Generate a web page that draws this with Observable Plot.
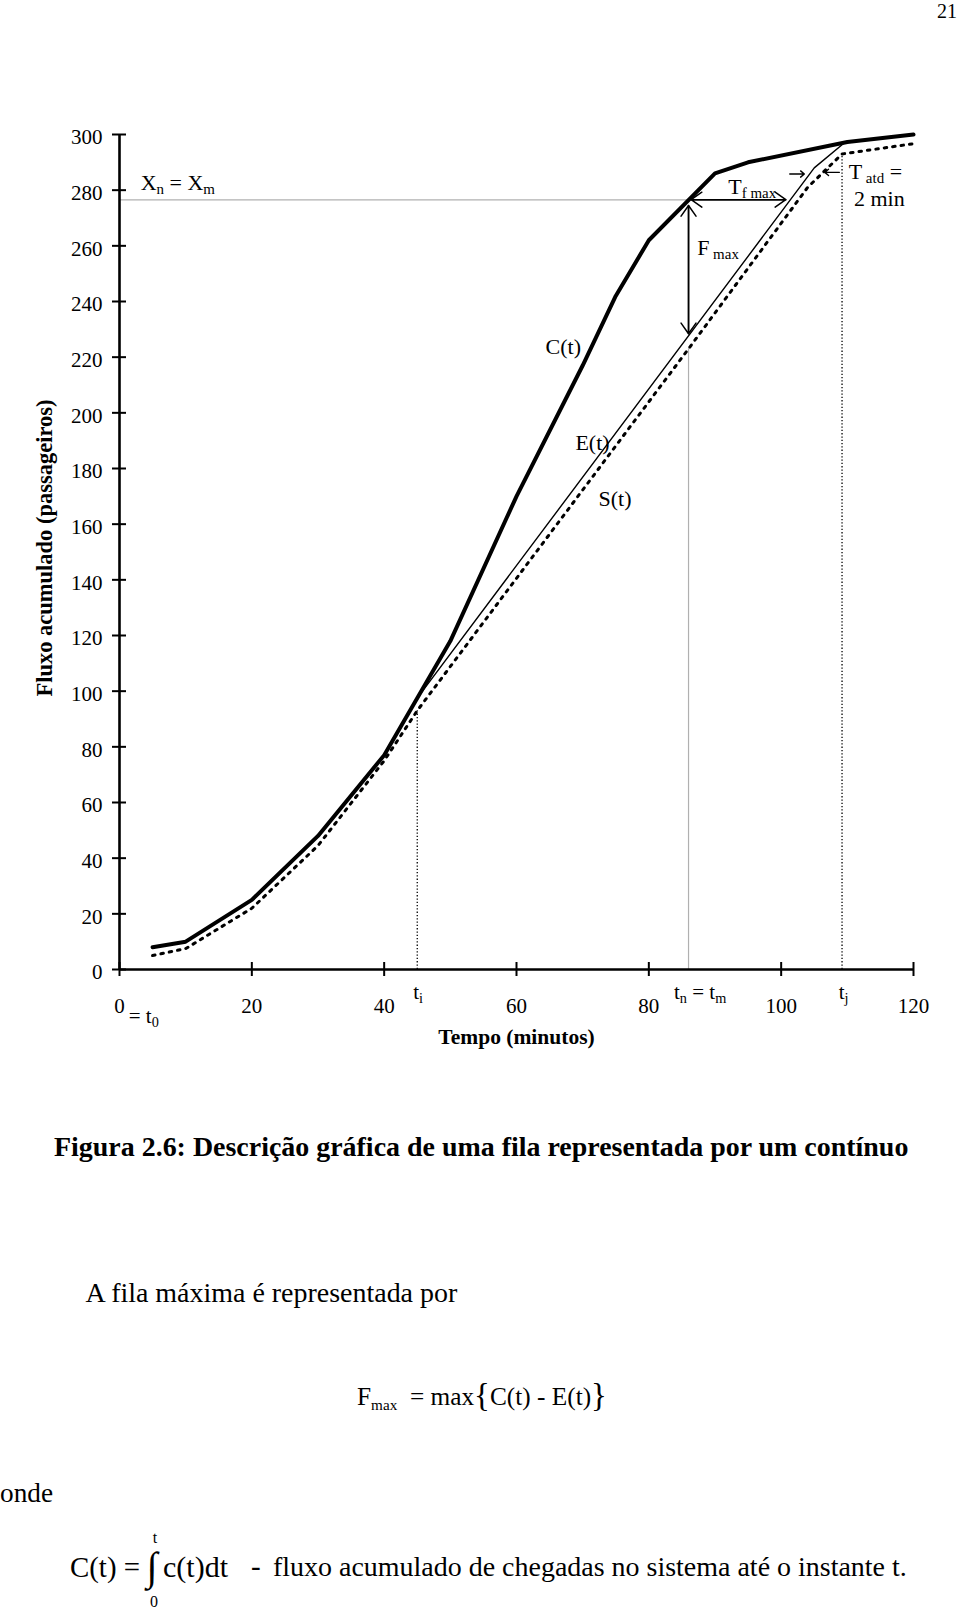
<!DOCTYPE html>
<html>
<head>
<meta charset="utf-8">
<script src="https://cdn.jsdelivr.net/npm/d3@7"></script>
<script src="https://cdn.jsdelivr.net/npm/@observablehq/plot@0.6"></script>
<style>
  html, body { margin: 0; padding: 0; background: #fff; }
  body { width: 960px; height: 1610px; position: relative; overflow: hidden;
         font-family: "Liberation Serif", "Times New Roman", serif; color: #000; }
  .abs { position: absolute; white-space: nowrap; line-height: 1; }
  #chart { position: absolute; left: 0; top: 0; }
  .sub { font-size: 0.6em; position: relative; top: 0.35em; line-height: 0; }
  .brace { font-size: 1.3em; line-height: 0; position: relative; top: 0.04em; }
</style>
</head>
<body>
<div id="chart"></div>
<div id="pagenum" class="abs">21</div>
<div id="caption" class="abs" style="font-weight:bold">Figura 2.6: Descrição gráfica de uma fila representada por um contínuo</div>
<div id="para" class="abs">A fila máxima é representada por</div>
<div id="formula" class="abs">F<span class="sub">max</span>&nbsp; = max<span class="brace">{</span>C(t) - E(t)<span class="brace">}</span></div>
<div id="onde" class="abs">onde</div>
<div id="cdef" class="abs">C(t) =</div>
<div id="integral" class="abs">∫</div>
<div id="limT" class="abs">t</div>
<div id="lim0" class="abs">0</div>
<div id="cint" class="abs">c(t)dt</div>
<div id="dash" class="abs">-</div>
<div id="desc" class="abs">fluxo acumulado de chegadas no sistema até o instante t.</div>
<script>
// ---------- data ----------
const xTicks = [0, 20, 40, 60, 80, 100, 120];
const yTicks = [0, 20, 40, 60, 80, 100, 120, 140, 160, 180, 200, 220, 240, 260, 280, 300];

// C(t): cumulative arrivals (thick line)
const cTime = [5, 10, 20, 30, 40, 50, 60, 70, 75, 80, 90, 95, 110, 120];
const cFlow = [8, 10, 25, 48, 77, 118, 170, 217, 242, 262, 286, 290, 297.3, 300];
// E(t): cumulative entries (thin line)
const eTime = [5, 10, 20, 30, 40, 45, 105, 109.7, 120];
const eFlow = [8, 10, 25, 48, 77, 97.5, 288, 297.3, 300];
// S(t): cumulative departures (dotted line)
const sTime = [5, 10, 20, 30, 40, 45, 86, 104, 109.2, 120];
const sFlow = [5, 7.5, 22, 44.5, 75, 93, 223, 281, 293, 296.7];

// reference instants / levels
const tN = 86, xN = 276.5, tNTop = 223;
const guideTime = [45, 109.2];      // t_i, t_j
const guideTop  = [93, 293];

// arrows: [x1, y1, x2, y2]
const arrowSegs = [
  [86, 274.5, 86, 228.4], [86, 228.4, 86, 274.5],     // F max
  [86.4, 276.6, 100.7, 276.6], [100.7, 276.6, 86.4, 276.6], // T f max
];
const smallArrowSegs = [
  [101.3, 285.8, 103.5, 285.8],
  [108.8, 286.4, 106.6, 286.4]
];

// annotations inside the plot: text, time, flow (baseline)
const noteText = ["X_{n} = X_{m}", "T_{f max}", "F_{ max}", "C(t)", "E(t)", "S(t)", "T_{ atd} =", "2 min"];
const noteTime = [3.2, 92.0, 87.3, 64.4, 68.9, 72.4, 110.2, 111.0];
const noteFlow = [279.9, 278.7, 256.6, 221.2, 186.7, 166.7, 284.1, 274.2];

// labels under the time axis
const tickNoteText = ["t_{i}", "t_{n} = t_{m}", "t_{j}"];
const tickNoteTime = [44.4, 83.8, 108.7];
const t0Text = "= t_{0}", t0Time = 1.4;

const yTitle = "Fluxo acumulado (passageiros)";
const xTitle = "Tempo (minutos)";

// ---------- build ----------
const C = cTime.map((t, i) => ({t, v: cFlow[i]}));
const E = eTime.map((t, i) => ({t, v: eFlow[i]}));
const S = sTime.map((t, i) => ({t, v: sFlow[i]}));
const guides = guideTime.map((t, i) => ({t, top: guideTop[i]}));
const arrows = arrowSegs.map(([x1, y1, x2, y2]) => ({x1, y1, x2, y2}));
const smallArrows = smallArrowSegs.map(([x1, y1, x2, y2]) => ({x1, y1, x2, y2}));
const notes = noteText.map((text, i) => ({text, t: noteTime[i], v: noteFlow[i]}));
const tickNotes = tickNoteText.map((text, i) => ({text, t: tickNoteTime[i]}));

const svg = Plot.plot({
  width: 960,
  height: 1060,
  marginLeft: 119,
  marginRight: 47,
  marginTop: 134,
  marginBottom: 91,
  x: {domain: [0, 120], label: null},
  y: {domain: [0, 300], label: null},
  style: {fontFamily: '"Liberation Serif", "Times New Roman", serif', fontSize: "21px", color: "#000", background: "transparent", overflow: "visible"},
  marks: [
    // gray reference lines
    Plot.ruleY([xN], {x1: 0, x2: tN, stroke: "#b0b0b0", strokeWidth: 1.2}),
    Plot.ruleX([tN], {y1: 0, y2: tNTop, stroke: "#b0b0b0", strokeWidth: 1.2}),
    // dotted guides t_i, t_j
    Plot.ruleX(guides, {x: "t", y1: 0, y2: "top", stroke: "#000", strokeWidth: 1.3, strokeDasharray: "1.3,2"}),
    // curves
    Plot.line(S, {x: "t", y: "v", stroke: "#000", strokeWidth: 3, strokeDasharray: "2.5,6"}),
    Plot.line(E, {x: "t", y: "v", stroke: "#000", strokeWidth: 1.4}),
    Plot.line(C, {x: "t", y: "v", stroke: "#000", strokeWidth: 4, strokeLinejoin: "round"}),
    // arrows
    Plot.arrow(arrows, {x1: "x1", y1: "y1", x2: "x2", y2: "y2", stroke: "#000", strokeWidth: 1.5, headLength: 13, headAngle: 70}),
    Plot.arrow(smallArrows, {x1: "x1", y1: "y1", x2: "x2", y2: "y2", stroke: "#000", strokeWidth: 1.4, headLength: 8, headAngle: 80}),
    // axis lines
    Plot.ruleX([0], {stroke: "#000", strokeWidth: 2.6}),
    Plot.ruleY([0], {stroke: "#000", strokeWidth: 2.6}),
    // crossing ticks
    Plot.axisY(yTicks, {tickSize: 14, dx: 7, fill: "none", stroke: "#000", strokeWidth: 2, label: null}),
    Plot.axisX(xTicks, {tickSize: 14, dy: -7, fill: "none", stroke: "#000", strokeWidth: 2, label: null}),
    // tick labels
    Plot.axisY(yTicks, {tickSize: 0, tickPadding: 17, dy: 3, fill: "#000", fontSize: 21, label: null, fontVariant: "normal"}),
    Plot.axisX(xTicks, {tickSize: 0, tickPadding: 28.6, fill: "#000", fontSize: 21, label: null, fontVariant: "normal"}),
    // axis titles
    Plot.text([yTitle], {text: d => d, frameAnchor: "left", dx: -75, dy: -4, rotate: -90, fontWeight: "bold", fontSize: 22.5, textAnchor: "middle", lineAnchor: "middle"}),
    Plot.text([xTitle], {text: d => d, frameAnchor: "bottom", dy: 68, fontWeight: "bold", fontSize: 21.5, textAnchor: "middle", lineAnchor: "middle"}),
    // annotations
    Plot.text(notes, {x: "t", y: "v", text: "text", textAnchor: "start", lineAnchor: "bottom", fontSize: 22}),
    Plot.text(tickNotes, {x: "t", y: () => 0, text: "text", textAnchor: "start", lineAnchor: "bottom", dy: 29, fontSize: 21}),
    Plot.text([t0Text], {x: () => t0Time, y: () => 0, text: d => d, textAnchor: "start", lineAnchor: "bottom", dy: 53, fontSize: 21})
  ]
});

// subscripts: "_{...}"
svg.querySelectorAll("text").forEach(el => {
  if (el.querySelector("tspan")) return;
  const s = el.textContent;
  if (!s.includes("_{")) return;
  const parts = s.split(/(_\{[^}]*\})/);
  el.textContent = "";
  let shifted = false;
  parts.forEach(p => {
    if (!p) return;
    const ts = document.createElementNS("http://www.w3.org/2000/svg", "tspan");
    if (p.startsWith("_{")) {
      ts.textContent = p.slice(2, -1);
      ts.setAttribute("font-size", "68%");
      ts.setAttribute("dy", "4");
      shifted = true;
    } else {
      ts.textContent = p;
      if (shifted) { ts.setAttribute("dy", "-4"); shifted = false; }
    }
    el.appendChild(ts);
  });
});
svg.style.whiteSpace = "pre";
document.getElementById("chart").appendChild(svg);

// ---------- text below the chart ----------
function place(id, left, baseline, size, width, center) {
  const el = document.getElementById(id);
  el.style.fontSize = size + "px";
  el.style.left = "0px";
  if (width) {
    const w = el.getBoundingClientRect().width;
    size = size * width / w;
    el.style.fontSize = size + "px";
  }
  const w2 = el.getBoundingClientRect().width;
  el.style.left = (center ? left - w2 / 2 : left) + "px";
  el.style.top = (baseline - 0.8375 * size) + "px";
}
place("pagenum", 937, 17.5, 20);
place("caption", 54, 1156.7, 27, 855);
place("para", 85.5, 1302.3, 29, 372);
place("formula", 357, 1405, 29, 250);
place("onde", 0, 1503, 29, 53);
place("cdef", 70, 1576.7, 29, 70);
place("cint", 163, 1576.7, 29, 65);
place("dash", 251, 1576.7, 29);
place("desc", 273, 1576.7, 29, 634);
place("limT", 155, 1543, 16, null, true);
place("lim0", 154, 1607, 16, null, true);
place("integral", 152, 1580, 40, null, true);
</script>
</body>
</html>
